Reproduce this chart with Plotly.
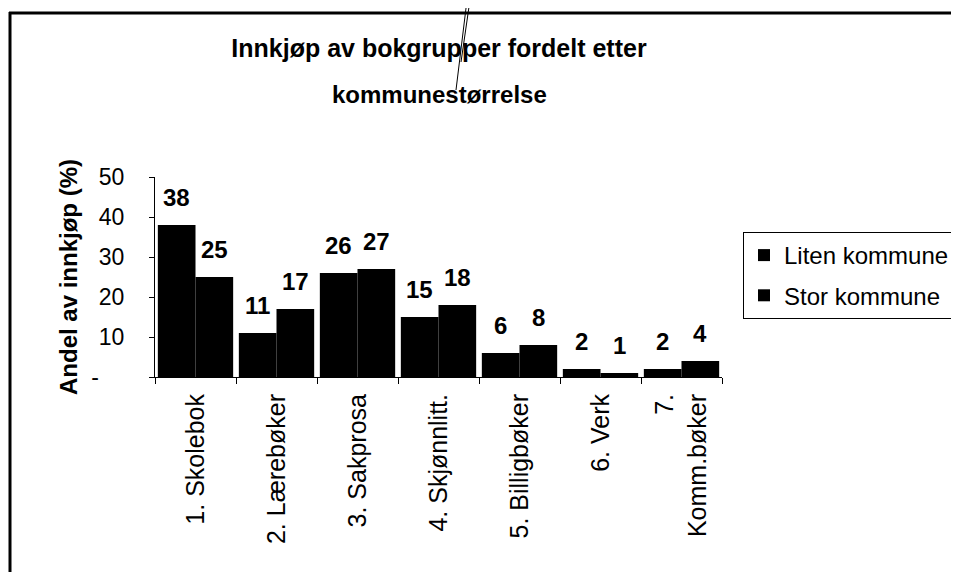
import plotly.graph_objects as go

categories = ["1. Skolebok", "2. Lærebøker", "3. Sakprosa", "4. Skjønnlitt.",
              "5. Billigbøker", "6. Verk", "7.<br>Komm.bøker"]
liten = [38, 11, 26, 15, 6, 2, 2]
stor = [25, 17, 27, 18, 8, 1, 4]
series_names = ["Liten kommune", "Stor kommune"]
y_tickvals = [0, 10, 20, 30, 40, 50]
y_ticktext = ["-\u00a0\u00a0\u00a0\u00a0", "10", "20", "30", "40", "50"]
title_lines = ["Innkjøp av bokgrupper fordelt etter", "kommunestørrelse"]

FONT = "Arial, Liberation Sans, sans-serif"
bargap = 0.07

# page offset (browser body margin) and target screen geometry
O = 8
W, H = 959, 572
L, R, T, B = 155, 722, 177, 377


def px(x):
    return (x - L) / (R - L)


def py(y):
    return (B - y) / (B - T)


fig = go.Figure()
for name, vals in zip(series_names, [liten, stor]):
    fig.add_trace(go.Bar(
        x=categories, y=vals, name=name,
        marker=dict(color="black", line=dict(color="black", width=0)),
        legendgroup=name,
    ))

# value labels above each bar
off = (1 - bargap) / 4
for j, vals in enumerate([liten, stor]):
    for i, v in enumerate(vals):
        fig.add_annotation(
            x=i + (-off if j == 0 else off), y=v, xref="x", yref="y",
            text=f"<b>{v}</b>", showarrow=False, yanchor="bottom",
            yshift=12, font=dict(family=FONT, size=24, color="black"),
        )

# frame lines (scanned page border)
fig.add_shape(type="line", xref="paper", yref="paper", x0=px(9), x1=px(962), y0=py(13), y1=py(13),
              line=dict(color="black", width=3))
fig.add_shape(type="line", xref="paper", yref="paper", x0=px(10), x1=px(10), y0=py(12), y1=py(575),
              line=dict(color="black", width=3))
# pen marks across title
fig.add_shape(type="line", xref="paper", yref="paper", x0=px(467), x1=px(456), y0=py(0), y1=py(90),
              line=dict(color="black", width=1))
fig.add_shape(type="line", xref="paper", yref="paper", x0=px(470), x1=px(461), y0=py(0), y1=py(62),
              line=dict(color="black", width=1))

# second title line
fig.add_annotation(
    x=px(439), y=py(94), xref="paper", yref="paper", xanchor="center", yanchor="middle",
    text=f"<b>{title_lines[1]}</b>", showarrow=False,
    font=dict(family=FONT, size=24, color="black"),
)

fig.update_layout(
    template="none",
    width=W - O, height=H - O,
    margin=dict(l=L - O, r=W - R, t=T - O, b=H - B, autoexpand=False),
    paper_bgcolor="white", plot_bgcolor="white",
    barmode="group", bargap=bargap, bargroupgap=0,
    font=dict(family=FONT, color="black"),
    title=dict(
        text=f"<b>{title_lines[0]}</b>",
        xref="container", yref="container",
        x=(439 - O) / (W - O), xanchor="center",
        y=1 - (48 - O) / (H - O), yanchor="middle",
        font=dict(family=FONT, size=25, color="black"),
    ),
    showlegend=True,
    legend=dict(
        x=px(743), y=py(232), xanchor="left", yanchor="top",
        bordercolor="black", borderwidth=1, bgcolor="white",
        font=dict(family=FONT, size=24, color="black"),
        traceorder="grouped", tracegroupgap=6, itemwidth=30,
    ),
    xaxis=dict(
        automargin=False,
        showline=True, linecolor="black", linewidth=1,
        ticks="outside", tickson="boundaries", ticklen=6, tickcolor="black",
        tickangle=-90, tickfont=dict(family=FONT, size=25, color="black"),
        ticklabelstandoff=6,
        showgrid=False, zeroline=False,
    ),
    yaxis=dict(
        automargin=False,
        range=[0, 50], showline=True, linecolor="black", linewidth=1,
        ticks="outside", ticklen=5, tickcolor="black",
        tickvals=y_tickvals, ticktext=y_ticktext,
        tickfont=dict(family=FONT, size=23, color="black"),
        ticklabelstandoff=20,
        showgrid=False, zeroline=False,
        title=dict(text="\u00a0\u00a0\u00a0<b>Andel av innkjøp (%)</b>", standoff=6,
                   font=dict(family=FONT, size=24, color="black")),
    ),
)

fig.write_html("out.html")
